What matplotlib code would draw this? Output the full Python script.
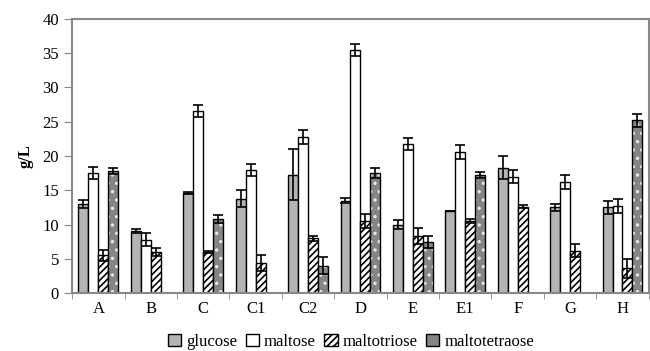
import matplotlib.pyplot as plt
import matplotlib.patches as mpatches
import numpy as np

plt.rcParams['font.family'] = ['Liberation Serif', 'DejaVu Serif']
plt.rcParams['hatch.linewidth'] = 1.2

categories = ['A', 'B', 'C', 'C1', 'C2', 'D', 'E', 'E1', 'F', 'G', 'H']
glucose = [13.0, 9.1, 14.6, 13.8, 17.3, 13.5, 10.0, 12.0, 18.3, 12.5, 12.5]
glucose_err = [0.6, 0.3, 0.2, 1.2, 3.7, 0.4, 0.6, 0.05, 1.7, 0.5, 0.9]
maltose = [17.5, 7.8, 26.6, 18.0, 22.8, 35.5, 21.8, 20.6, 17.0, 16.2, 12.7]
maltose_err = [0.9, 1.0, 0.9, 0.9, 1.0, 0.9, 0.9, 1.0, 0.9, 1.0, 1.0]
maltotriose = [5.5, 6.0, 6.0, 4.4, 8.0, 10.5, 8.3, 10.5, 12.6, 6.2, 3.6]
maltotriose_err = [0.8, 0.6, 0.1, 1.2, 0.4, 1.0, 1.2, 0.3, 0.2, 1.0, 1.4]
maltotetraose = [17.8, 0, 10.8, 0, 4.0, 17.5, 7.5, 17.2, 0, 0, 25.2]
maltotetraose_err = [0.4, 0, 0.6, 0, 1.2, 0.7, 0.9, 0.4, 0, 0, 0.9]

fig = plt.figure(figsize=(6.5, 3.51), dpi=100)
ax = fig.add_axes([0.111, 0.165, 0.887, 0.781])

x = np.arange(len(categories))
w = 0.19
err_kw = dict(ecolor='black', capsize=3.5, elinewidth=1.2, capthick=1.2)

ax.bar(x - 1.5 * w, glucose, w, color='#b4b4b4', edgecolor='black', linewidth=1.0,
       yerr=glucose_err, error_kw=err_kw, label='glucose')
ax.bar(x - 0.5 * w, maltose, w, color='white', edgecolor='black', linewidth=1.0,
       yerr=maltose_err, error_kw=err_kw, label='maltose')
ax.bar(x + 0.5 * w, maltotriose, w, color='white', edgecolor='black', linewidth=1.0,
       hatch='/////', yerr=maltotriose_err, error_kw=err_kw, label='maltotriose')
# dotted grey bars: white dots underneath, black outline on top
tet_mask = np.array(maltotetraose) > 0
ax.bar(x[tet_mask] + 1.5 * w, np.array(maltotetraose)[tet_mask], w, color='#858585',
       edgecolor='#e8e8e8', linewidth=0, hatch='..')
ax.bar(x[tet_mask] + 1.5 * w, np.array(maltotetraose)[tet_mask], w, fill=False,
       edgecolor='black', linewidth=1.0,
       yerr=np.array(maltotetraose_err)[tet_mask], error_kw=err_kw)

ax.set_xlim(-0.5, len(categories) - 0.5)
ax.set_ylim(0, 40)
ax.set_yticks(range(0, 41, 5))
ax.set_xticks(x)
ax.set_xticklabels(categories, fontsize=12)
ax.set_xticks(np.arange(-0.5, len(categories), 1), minor=True)
ax.tick_params(axis='x', which='major', length=0, pad=6)
ax.tick_params(axis='x', which='minor', length=4, color='#888888', direction='out')
ax.tick_params(axis='y', labelsize=12, length=6, color='#888888', direction='out')
for s in ax.spines.values():
    s.set_color('#888888')
    s.set_linewidth(1.5)
ax.set_ylabel('g/L', fontsize=12, fontweight='bold', labelpad=6)

handles = [
    mpatches.Patch(facecolor='#b4b4b4', edgecolor='black', label='glucose'),
    mpatches.Patch(facecolor='white', edgecolor='black', label='maltose'),
    mpatches.Patch(facecolor='white', edgecolor='black', hatch='/////', label='maltotriose'),
    mpatches.Patch(facecolor='#858585', edgecolor='black', label='maltotetraose'),
]
fig.legend(handles=handles, loc='lower center', bbox_to_anchor=(0.54, -0.03), ncol=4,
           frameon=False, fontsize=12, handlelength=0.8, handleheight=0.8,
           handletextpad=0.3, columnspacing=0.5, borderpad=0.2)

fig.savefig('out.png', dpi=100)
